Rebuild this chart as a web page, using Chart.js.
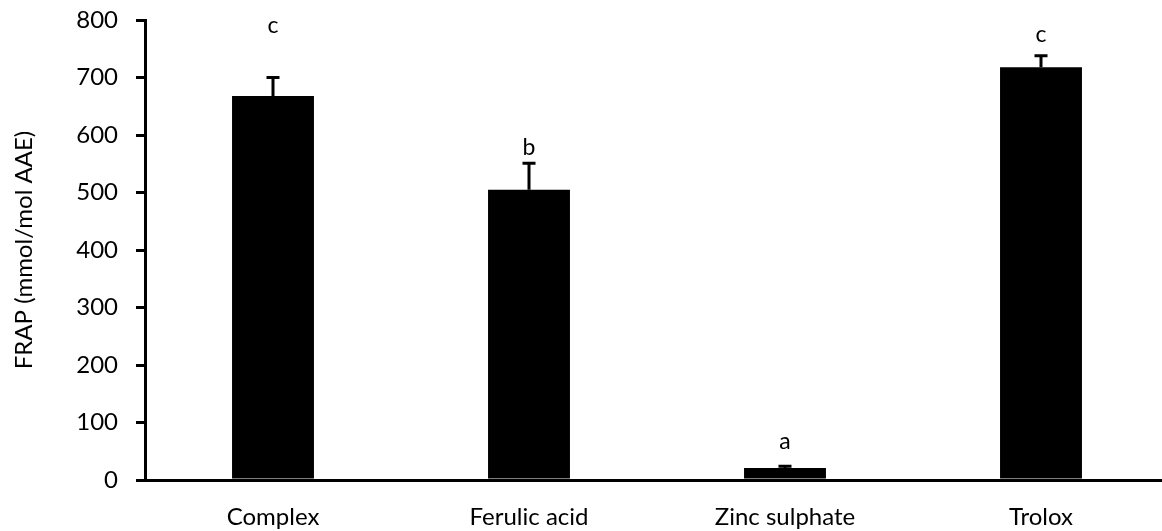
<!DOCTYPE html>
<html>
<head>
<meta charset="utf-8">
<script src="https://cdn.jsdelivr.net/npm/chart.js@4.4.0/dist/chart.umd.min.js"></script>
<style>
  html, body { margin: 0; padding: 0; background: #fff; overflow: hidden; }
  #wrap { width: 1162px; height: 531px; overflow: hidden; }
</style>
</head>
<body>
<div id="wrap"><canvas id="frapChart" width="1170" height="531"></canvas></div>
<script>
// Data
const categories = ['Complex', 'Ferulic acid', 'Zinc sulphate', 'Trolox'];
const frapValues = [668, 505, 21, 718];
const frapErrors = [32, 46, 3, 20];
const letters = ['c', 'b', 'a', 'c'];
const letterValues = [777, 565, 54, 762];
const yTicks = [0, 100, 200, 300, 400, 500, 600, 700, 800];

const FONT = 'Lato, "Open Sans", sans-serif';

// Error bars (upper only) and significance letters
const errorBarPlugin = {
    id: 'errorBars',
    afterDatasetsDraw(chart) {
        const ctx = chart.ctx;
        const y = chart.scales.y;
        const meta = chart.getDatasetMeta(0);
        ctx.save();
        ctx.strokeStyle = '#000';
        ctx.lineWidth = 3;
        meta.data.forEach((bar, i) => {
            const top = y.getPixelForValue(frapValues[i] + frapErrors[i]);
            ctx.beginPath();
            ctx.moveTo(bar.x, bar.y);
            ctx.lineTo(bar.x, top);
            ctx.moveTo(bar.x - 6.5, top);
            ctx.lineTo(bar.x + 6.5, top);
            ctx.stroke();

            ctx.fillStyle = '#000';
            ctx.font = '23px ' + FONT;
            ctx.textAlign = 'center';
            ctx.textBaseline = 'alphabetic';
            ctx.fillText(letters[i], bar.x, y.getPixelForValue(letterValues[i]));
        });
        ctx.restore();
    }
};

new Chart(document.getElementById('frapChart'), {
    type: 'bar',
    data: {
        labels: categories,
        datasets: [{
            data: frapValues,
            backgroundColor: '#000',
            borderWidth: 0,
            barPercentage: 0.32,
            categoryPercentage: 1
        }]
    },
    options: {
        responsive: false,
        animation: false,
        layout: {
            padding: { top: 20, right: 1, bottom: 0, left: 0 }
        },
        plugins: {
            legend: { display: false },
            tooltip: { enabled: false }
        },
        scales: {
            x: {
                grid: { display: false, drawTicks: false },
                border: { display: true, color: '#000', width: 3 },
                ticks: {
                    color: '#000',
                    padding: 23,
                    font: { family: FONT, size: 24 }
                },
                afterFit(scale) {
                    scale.height = 51;
                    scale.paddingLeft = 0;
                    scale.paddingRight = 0;
                }
            },
            y: {
                min: 0,
                max: 800,
                afterBuildTicks(scale) {
                    scale.ticks = yTicks.map(v => ({ value: v }));
                },
                grid: {
                    drawOnChartArea: false,
                    drawTicks: true,
                    tickLength: 9,
                    color: '#000',
                    lineWidth: 3
                },
                border: { display: true, color: '#000', width: 3 },
                ticks: {
                    color: '#000',
                    padding: 18,
                    font: { family: FONT, size: 24 }
                },
                title: {
                    display: true,
                    text: 'FRAP (mmol/mol AAE)',
                    color: '#000',
                    font: { family: FONT, size: 24 },
                    padding: { top: 10, bottom: 0 }
                },
                afterFit(scale) {
                    scale.width = 145;
                    scale.paddingTop = 0;
                    scale.paddingBottom = 0;
                }
            }
        }
    },
    plugins: [errorBarPlugin]
});
</script>
</body>
</html>
